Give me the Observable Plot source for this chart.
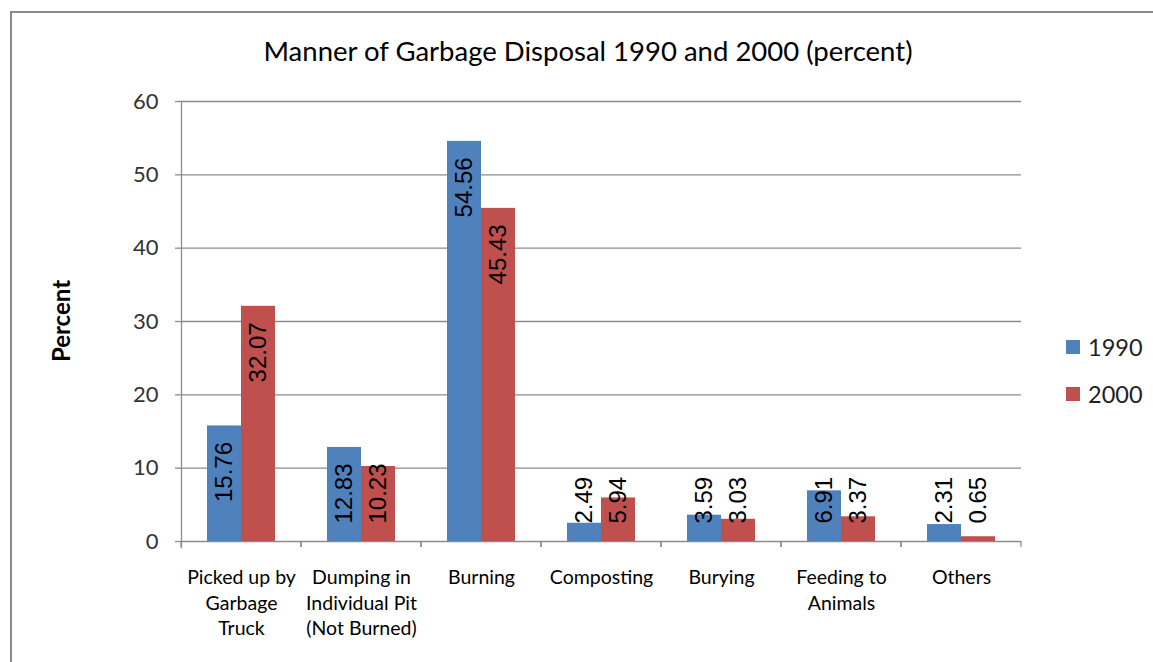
<!DOCTYPE html>
<html>
<head>
<meta charset="utf-8">
<script src="https://cdn.jsdelivr.net/npm/d3@7"></script>
<script src="https://cdn.jsdelivr.net/npm/@observablehq/plot@0.6"></script>
<style>
  html, body { margin: 0; padding: 0; background: #fff; overflow: hidden; }
  #wrap { position: relative; width: 1153px; height: 662px; overflow: hidden; font-family: Lato, "Open Sans", sans-serif; }
  #chart { position: absolute; left: 0; top: 0; }
  #border { position: absolute; left: 10px; top: 11px; width: 1300px; height: 800px; border: 2px solid #8a8a8a; pointer-events: none; }
  #title { position: absolute; left: 0; width: 1176px; top: 35px; text-align: center; font-size: 27.5px; color: #000; line-height: 32px; white-space: nowrap; }
  #ylabel { position: absolute; left: 60px; top: 321px; transform: translate(-50%, -50%) rotate(-90deg); font-size: 24px; font-weight: bold; color: #000; white-space: nowrap; }
  .leg { position: absolute; left: 1066px; display: flex; align-items: center; font-size: 23.5px; color: #222; }
  .leg span.sw { width: 14px; height: 14px; margin-right: 8px; display: inline-block; }
</style>
</head>
<body>
<div id="wrap">
  <div id="chart"></div>
  <div id="title">Manner of Garbage Disposal 1990 and 2000 (percent)</div>
  <div id="ylabel">Percent</div>
  <div id="legend"></div>
  <div id="border"></div>
</div>
<script>
// ---- data ----
const categories = [
  "Picked up by Garbage Truck",
  "Dumping in Individual Pit (Not Burned)",
  "Burning",
  "Composting",
  "Burying",
  "Feeding to Animals",
  "Others"
];
const categoryLabels = [
  "Picked up by\nGarbage\nTruck",
  "Dumping in\nIndividual Pit\n(Not Burned)",
  "Burning",
  "Composting",
  "Burying",
  "Feeding to\nAnimals",
  "Others"
];
const years = ["1990", "2000"];
const values1990 = [15.76, 12.83, 54.56, 2.49, 3.59, 6.91, 2.31];
const values2000 = [32.07, 10.23, 45.43, 5.94, 3.03, 3.37, 0.65];
const yTicks = [0, 10, 20, 30, 40, 50, 60];
const colors = ["#4F81BD", "#C0504D"];

// ---- table built from the arrays ----
const rows = [];
categories.forEach((c, i) => {
  rows.push({category: c, year: years[0], value: values1990[i]});
  rows.push({category: c, year: years[1], value: values2000[i]});
});

const gray = "#8c8c8c";
const font = "Lato, 'Open Sans', sans-serif";

// small tick marks at the category boundaries, drawn in every facet
const boundaryTicks = (index, scales, values, dimensions) => {
  let r0, r1;
  if (scales.x && scales.x.range) { [r0, r1] = scales.x.range(); }
  else { r0 = dimensions.marginLeft; r1 = dimensions.width - dimensions.marginRight; }
  const y0 = scales.y(0);
  const g = d3.create("svg:g").attr("stroke", gray).attr("stroke-width", 1.3);
  for (const xx of [r0, r1]) {
    g.append("line").attr("x1", xx).attr("x2", xx).attr("y1", y0).attr("y2", y0 + 6);
  }
  return g.node();
};

const chart = Plot.plot({
  width: 1153,
  height: 662,
  marginLeft: 178,
  marginRight: 130,
  marginTop: 101,
  marginBottom: 121,
  style: {background: "transparent", fontFamily: font},
  fx: {domain: categories, padding: 0, axis: null},
  x: {domain: years, paddingInner: 0, paddingOuter: 0.75, axis: null},
  y: {domain: [0, 60], axis: null},
  color: {domain: years, range: colors},
  marks: [
    Plot.ruleY(yTicks, {stroke: gray, strokeWidth: 1.3}),
    Plot.axisY({ticks: yTicks, tickSize: 6, tickPadding: 17, stroke: gray, strokeWidth: 1.3, fontSize: 22, fill: "#333", label: null, strokeOpacity: 1}),
    Plot.frame({anchor: "left", facetAnchor: "left", stroke: gray, strokeWidth: 1.3, insetBottom: -6}),
    boundaryTicks,
    Plot.barY(rows, {fx: "category", x: "year", y: "value", fill: "year"}),
    Plot.text(rows.filter(d => d.value >= 13), {
      fx: "category", x: "year", y: "value", text: d => d.value.toFixed(2),
      rotate: -90, textAnchor: "end", dy: 16, fontSize: 24, fill: "#000",
      fontFamily: "'Liberation Sans', Arial, sans-serif"
    }),
    Plot.text(rows.filter(d => d.value < 13), {
      fx: "category", x: "year", y: 0, text: d => d.value.toFixed(2),
      rotate: -90, textAnchor: "start", dy: -18, fontSize: 24, fill: "#000",
      fontFamily: "'Liberation Sans', Arial, sans-serif"
    }),
    Plot.text(categories, {
      fx: d => d, text: (d, i) => categoryLabels[i], frameAnchor: "bottom",
      lineAnchor: "top", dy: 24, fontSize: 19.5, lineHeight: 1.32, fill: "#000"
    })
  ]
});
document.getElementById("chart").appendChild(chart);

// legend
const legend = document.getElementById("legend");
years.forEach((yr, i) => {
  const el = document.createElement("div");
  el.className = "leg";
  el.style.top = (333 + i * 47) + "px";
  el.style.height = "28px";
  el.innerHTML = `<span class="sw" style="background:${colors[i]}"></span><span>${yr}</span>`;
  legend.appendChild(el);
});
</script>
</body>
</html>
